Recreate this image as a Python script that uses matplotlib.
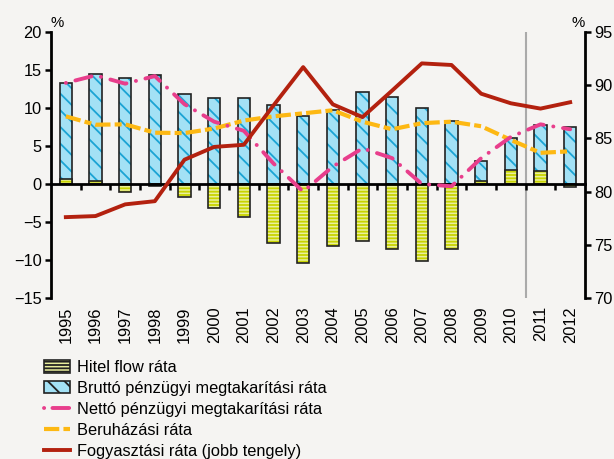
import matplotlib
matplotlib.use("Agg")
import matplotlib.pyplot as plt
import numpy as np
from matplotlib.patches import Patch
from matplotlib.lines import Line2D

plt.rcParams['font.family'] = ['Liberation Sans', 'DejaVu Sans']
plt.rcParams['lines.scale_dashes'] = False
plt.rcParams['hatch.linewidth'] = 1.3

years = ['1995', '1996', '1997', '1998', '1999', '2000', '2001', '2002', '2003',
         '2004', '2005', '2006', '2007', '2008', '2009', '2010', '2011', '2012']
hitel_flow = [0.6, 0.35, -1.1, -0.2, -1.75, -3.1, -4.4, -7.7, -10.4,
              -8.1, -7.5, -8.5, -10.1, -8.6, 0.35, 1.9, 1.7, -0.4]
brutto = [13.3, 14.5, 14.0, 14.3, 11.8, 11.3, 11.3, 10.4, 9.0,
          9.8, 12.1, 11.4, 10.0, 8.3, 3.0, 6.0, 7.8, 7.5]
netto = [13.3, 14.3, 13.2, 14.2, 10.5, 8.2, 7.0, 2.7, -1.0,
         2.3, 4.7, 3.4, 0.0, -0.3, 3.4, 6.2, 7.85, 7.2]
beruhazas = [8.9, 7.8, 7.85, 6.75, 6.7, 7.3, 8.35, 8.9, 9.3,
             9.7, 8.2, 7.2, 8.0, 8.2, 7.6, 5.8, 4.1, 4.3]
fogyasztas = [77.6, 77.7, 78.8, 79.1, 83.0, 84.2, 84.4, 88.1, 91.7,
              88.2, 87.0, 89.5, 92.05, 91.9, 89.2, 88.3, 87.8, 88.4]

labels = ['Hitel flow ráta', 'Bruttó pénzügyi megtakarítási ráta',
          'Nettó pénzügyi megtakarítási ráta', 'Beruházási ráta',
          'Fogyasztási ráta (jobb tengely)']

BG = '#f5f4f2'
BLUE_FACE = '#a3e1f5'
BLUE_HATCH = '#1ba4d4'
YEL_FACE = '#e9ef9c'
YEL_HATCH = '#c8d400'
PINK = '#e83e8c'
ORANGE = '#fdb813'
RED = '#b3210f'
FS = 11.8

fig = plt.figure(figsize=(6.14, 4.59), dpi=100, facecolor=BG)
ax = fig.add_axes([51/614, 1-298/459, 534/614, 266/459])
ax.set_facecolor(BG)
x = np.arange(len(years))
w = 0.42

# gross saving bars
ax.bar(x, brutto, w, color=BLUE_FACE, edgecolor=BLUE_HATCH, linewidth=0, hatch='\\\\', zorder=2)
ax.bar(x, brutto, w, fill=False, edgecolor='#222222', linewidth=1.2, zorder=2.1)
# credit flow bars
ax.bar(x, hitel_flow, w, color=YEL_FACE, edgecolor=YEL_HATCH, linewidth=0, hatch='-----', zorder=2.2)
ax.bar(x, hitel_flow, w, fill=False, edgecolor='#222222', linewidth=1.2, zorder=2.3)

ax.axvline(15.5, color='#aaaaaa', linewidth=1.5, zorder=1.5)

ax.plot(x, beruhazas, color=ORANGE, linewidth=3, dashes=(11, 3, 5, 3), zorder=3)
ax.plot(x, netto, color=PINK, linewidth=2.8, dashes=(0.1, 7, 12, 7),
        dash_capstyle='round', zorder=3.1)

ax.set_xlim(-0.5, len(years) - 0.5)
ax.set_ylim(-15, 20)
ax.set_yticks(np.arange(-15, 21, 5))
ax.set_yticklabels([str(v).replace('-', '\u2212') for v in range(-15, 21, 5)])
ax.spines['top'].set_visible(False)
ax.spines['right'].set_visible(False)
ax.spines['left'].set_linewidth(2)
ax.spines['bottom'].set_position(('data', 0))
ax.spines['bottom'].set_linewidth(2)
ax.spines['bottom'].set_zorder(2.6)
ax.set_xticks(x)
ax.set_xticklabels([])
ax.set_xticks(np.arange(0.5, len(years) - 0.5, 1), minor=True)
ax.tick_params(axis='x', which='major', length=0)
ax.tick_params(axis='x', which='minor', length=4, width=1.8, direction='out', color='black')
ax.tick_params(axis='y', length=4.5, width=1.8, direction='out', labelsize=FS, pad=2)

sec = ax.secondary_xaxis('bottom')
sec.set_xticks(x, labels=years, rotation=90)
sec.tick_params(length=0, pad=6, labelsize=FS)
sec.spines['bottom'].set_visible(False)

ax2 = ax.twinx()
ax2.plot(x, fogyasztas, color=RED, linewidth=2.8, zorder=4)
ax2.set_ylim(70, 95)
ax2.set_yticks(np.arange(70, 96, 5))
ax2.spines['top'].set_visible(False)
ax2.spines['left'].set_visible(False)
ax2.spines['bottom'].set_visible(False)
ax2.spines['right'].set_linewidth(2)
ax2.tick_params(axis='y', length=4.5, width=1.8, direction='out', labelsize=FS, pad=2)

ax.text(6/534, 1 + 9/266, '%', transform=ax.transAxes, ha='center', va='center', fontsize=FS - 1)
ax.text(1 - 7/534, 1 + 9/266, '%', transform=ax.transAxes, ha='center', va='center', fontsize=FS - 1)

handles = [
    Patch(facecolor=YEL_FACE, edgecolor=YEL_HATCH, hatch='-----', linewidth=0),
    Patch(facecolor=BLUE_FACE, edgecolor=BLUE_HATCH, hatch='\\\\', linewidth=0),
    Line2D([], [], color=PINK, linewidth=2.8, dashes=(0.1, 6, 12, 6), dash_capstyle='round'),
    Line2D([], [], color=ORANGE, linewidth=3, dashes=(11, 3, 5, 3)),
    Line2D([], [], color=RED, linewidth=2.8),
]
leg = fig.legend(handles, labels, loc='upper left', bbox_to_anchor=(44/614, 1 - 360/459),
                 frameon=False, fontsize=FS, handlelength=1.6, handleheight=0.8,
                 handletextpad=0.4, labelspacing=0.36, borderpad=0, borderaxespad=0)
for p in leg.get_patches():
    p.set_edgecolor('#222222')
    p.set_linewidth(1.2)

fig.savefig('out.png', dpi=100, facecolor=BG)
